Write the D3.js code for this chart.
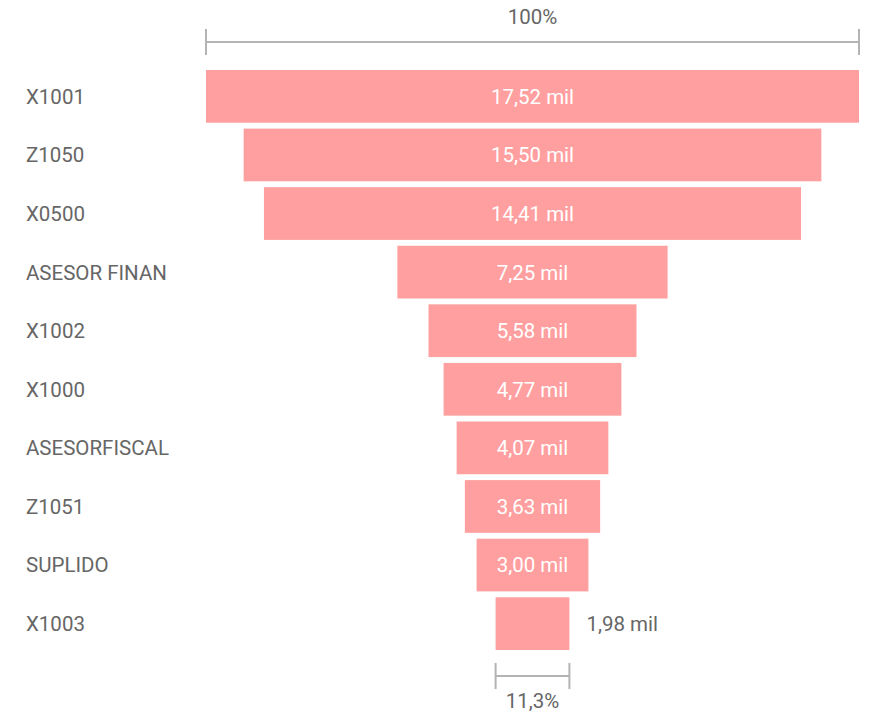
<!DOCTYPE html>
<html><head><meta charset="utf-8">
<script src="https://cdn.jsdelivr.net/npm/d3@7"></script>
<style>body{margin:0;background:#fff}svg{display:block}</style>
</head><body>
<svg id="c" width="874" height="714"></svg>
<script>
const categories = ["X1001","Z1050","X0500","ASESOR FINAN","X1002","X1000","ASESORFISCAL","Z1051","SUPLIDO","X1003"];
const values = [17520,15500,14410,7250,5580,4770,4070,3630,3000,1980];
const valueLabels = ["17,52 mil","15,50 mil","14,41 mil","7,25 mil","5,58 mil","4,77 mil","4,07 mil","3,63 mil","3,00 mil","1,98 mil"];
const topLabel = "100%";
const bottomLabel = "11,3%";

const svg = d3.select("#c");
const font = "Roboto, 'DejaVu Sans', sans-serif";
const fs = 20.5;
const cx = 532.5, maxW = 653;
const w = d3.scaleLinear().domain([0, d3.max(values)]).range([0, maxW]);
const y = d3.scaleBand().domain(categories).range([70, 650]).paddingInner(0.1).paddingOuter(0);
const barColor = "#FF9F9F", textColor = "#666666", axisColor = "#b4b4b4";

svg.selectAll("rect.bar").data(values).join("rect")
  .attr("x", d => cx - w(d)/2).attr("width", d => w(d))
  .attr("y", (d,i) => y(categories[i])).attr("height", y.bandwidth())
  .attr("fill", barColor);

svg.selectAll("text.cat").data(categories).join("text")
  .attr("x", 26).attr("y", d => y(d) + y.bandwidth()/2)
  .attr("dy", "0.36em").attr("font-family", font).attr("font-size", fs)
  .attr("fill", textColor).text(d => d);

svg.selectAll("text.val").data(values).join("text")
  .each(function(d,i){
    const inside = w(d) > 100;
    d3.select(this)
      .attr("x", inside ? cx : cx + w(d)/2 + 17)
      .attr("text-anchor", inside ? "middle" : "start")
      .attr("fill", inside ? "#ffffff" : textColor);
  })
  .attr("y", (d,i) => y(categories[i]) + y.bandwidth()/2)
  .attr("dy", "0.36em").attr("font-family", font).attr("font-size", fs)
  .text((d,i) => valueLabels[i]);

function bracket(x0, x1, yl, label, ly) {
  const g = svg.append("g").attr("stroke", axisColor).attr("stroke-width", 2);
  g.append("line").attr("x1", x0).attr("x2", x1).attr("y1", yl).attr("y2", yl);
  g.append("line").attr("x1", x0).attr("x2", x0).attr("y1", yl-13).attr("y2", yl+13);
  g.append("line").attr("x1", x1).attr("x2", x1).attr("y1", yl-13).attr("y2", yl+13);
  svg.append("text").attr("x", (x0+x1)/2).attr("y", ly).attr("text-anchor","middle")
    .attr("dy","0.36em").attr("font-family", font).attr("font-size", fs).attr("fill", textColor).text(label);
}
const first = values[0], last = values[values.length-1];
bracket(cx - w(first)/2, cx + w(first)/2, 42, topLabel, 17);
bracket(cx - w(last)/2, cx + w(last)/2, 676, bottomLabel, 701);
</script>
</body></html>
